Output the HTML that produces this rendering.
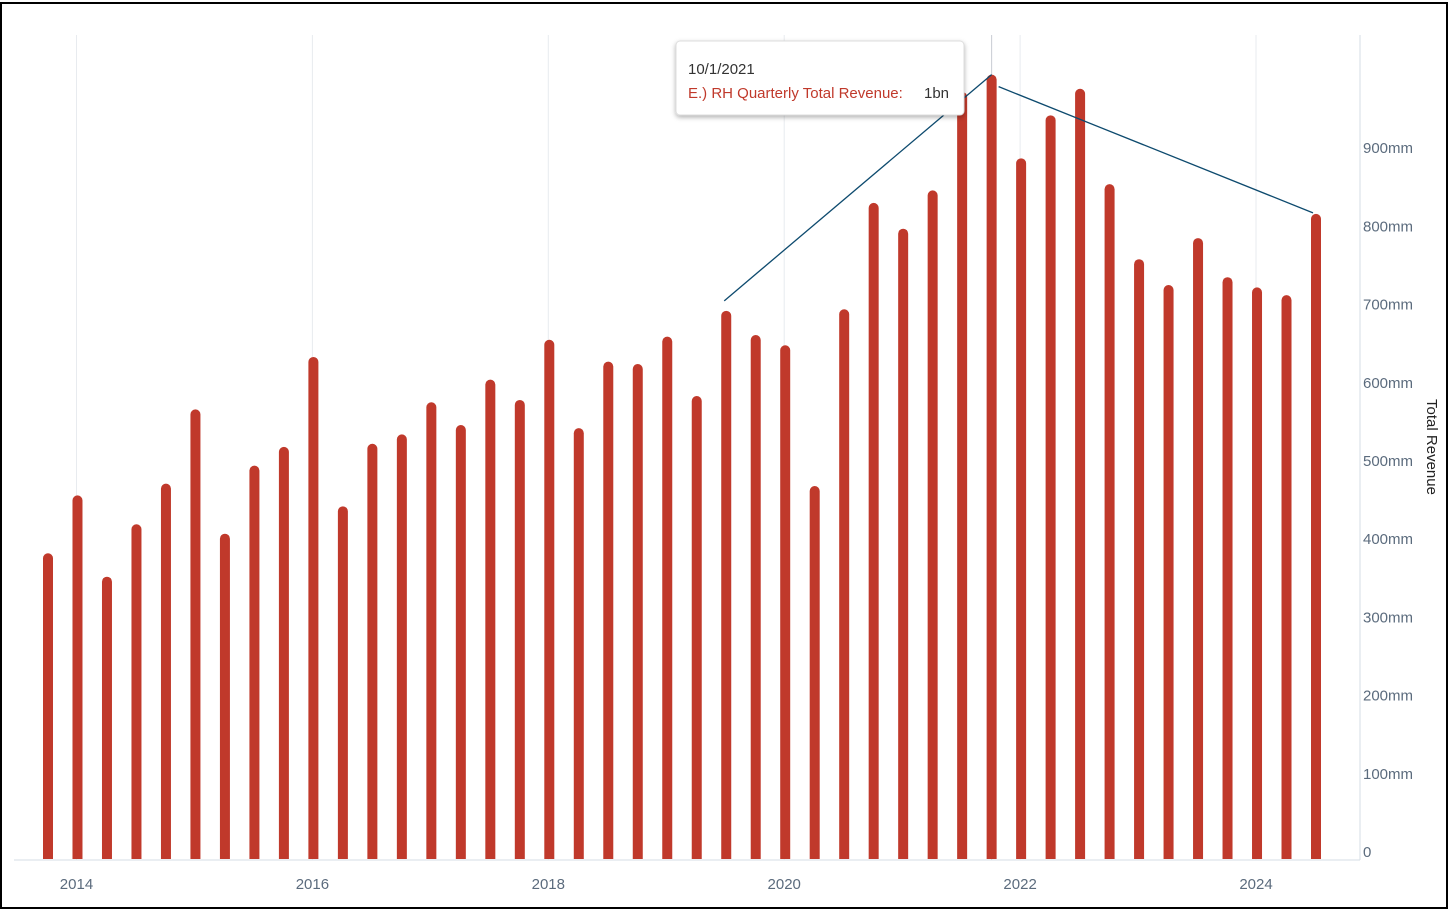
<!DOCTYPE html>
<html><head><meta charset="utf-8"><style>
html,body{margin:0;padding:0;background:#fff;}
#wrap{position:relative;width:1456px;height:915px;overflow:hidden;font-family:"Liberation Sans",sans-serif;}
svg text{font-family:"Liberation Sans",sans-serif;}
</style></head><body>
<div id="wrap">
<svg id="chart" width="1456" height="915">
<rect x="1" y="3" width="1446" height="905" fill="#fff" stroke="#000" stroke-width="2"/>
<g id="grid"></g><g id="bars"></g><g id="axes"></g><g id="overlay"></g>
</svg>
</div>
<script>
const categories = ["10/1/2013","1/1/2014","4/1/2014","7/1/2014","10/1/2014","1/1/2015","4/1/2015","7/1/2015","10/1/2015","1/1/2016","4/1/2016","7/1/2016","10/1/2016","1/1/2017","4/1/2017","7/1/2017","10/1/2017","1/1/2018","4/1/2018","7/1/2018","10/1/2018","1/1/2019","4/1/2019","7/1/2019","10/1/2019","1/1/2020","4/1/2020","7/1/2020","10/1/2020","1/1/2021","4/1/2021","7/1/2021","10/1/2021","1/1/2022","4/1/2022","7/1/2022","10/1/2022","1/1/2023","4/1/2023","7/1/2023","10/1/2023","1/1/2024","4/1/2024","7/1/2024"];
const revenue = [391,465,361,428,480,575,416,503,527,642,451,531,543,584,555,613,587,664,551,636,633,668,592,701,670,657,477,703,839,806,855,981,1003,896,951,985,863,767,734,794,744,731,721,825];
const yTicks = [0,100,200,300,400,500,600,700,800,900];
const yTickLabels = ["0","100mm","200mm","300mm","400mm","500mm","600mm","700mm","800mm","900mm"];
const xTickLabels = ["2014","2016","2018","2020","2022","2024"];
const xTickIndex = [1,9,17,25,33,41];
const highlightIndex = 32;

const NS="http://www.w3.org/2000/svg";
const x0=48, step=(1316-48)/43, yBase=859, pxPer=0.782;
const xs=i=>x0+i*step;
const ys=v=>yBase-v*pxPer;
function mk(tag,attrs,parent){const e=document.createElementNS(NS,tag);for(const k in attrs)e.setAttribute(k,attrs[k]);parent.appendChild(e);return e;}
const grid=document.getElementById('grid'),bars=document.getElementById('bars'),axes=document.getElementById('axes'),ov=document.getElementById('overlay');

xTickIndex.forEach((ti,j)=>{
  const x=xs(ti)-1;
  const l=mk('line',{x1:x,x2:x,y1:35,y2:860,stroke:'#e8ebef','stroke-width':1},grid);
  
  
  const t=mk('text',{x:x,y:889,'text-anchor':'middle','font-size':15,fill:'#5b6b7d'},axes);
  t.textContent=xTickLabels[j];
  
  
});
const cx=xs(highlightIndex);
const ch=mk('line',{x1:cx,x2:cx,y1:35,y2:860,stroke:'#c8ccd2','stroke-width':1},grid);



revenue.forEach((v,i)=>{
  const x=xs(i),top=ys(v);
  const p=mk('path',{d:`M${x-5},${yBase} L${x-5},${top+5} A5,5 0 0 1 ${x+5},${top+5} L${x+5},${yBase} Z`,fill:'#c0392b'},bars);
  
  
});

const ax=mk('line',{x1:14,x2:1360,y1:860,y2:860,stroke:'#d5dde6','stroke-width':1},axes);


const ay=mk('line',{x1:1360,x2:1360,y1:35,y2:860,stroke:'#d5dde6','stroke-width':1},axes);


yTicks.forEach((v,j)=>{
  const t=mk('text',{x:1363,y:ys(v)-2,'font-size':15,fill:'#5b6b7d'},axes);
  t.textContent=yTickLabels[j];
  
  
});
const yt=mk('text',{x:1427,y:447,'font-size':15,fill:'#222','text-anchor':'middle',transform:'rotate(90 1427 447)'},axes);
yt.textContent='Total Revenue';



// annotation lines
const a1=mk('line',{x1:xs(23)-2,y1:ys(revenue[23])-10,x2:xs(highlightIndex),y2:ys(revenue[highlightIndex]),stroke:'#0d4a6e','stroke-width':1.3},ov);


const a2=mk('line',{x1:xs(highlightIndex)+7,y1:ys(revenue[highlightIndex])+12,x2:xs(43)-3,y2:ys(revenue[43])-1,stroke:'#0d4a6e','stroke-width':1.3},ov);



// tooltip
const defs=mk('defs',{},ov);
defs.innerHTML='<filter id="sh" x="-10%" y="-20%" width="120%" height="150%"><feDropShadow dx="0" dy="2" stdDeviation="2.5" flood-color="#000" flood-opacity="0.3"/></filter>';
const tg=mk('g',{},ov);


mk('rect',{x:676,y:41,width:288,height:74,rx:4,fill:'#fff',stroke:'#ddd',filter:'url(#sh)'},tg);
const t1=mk('text',{x:688,y:74,'font-size':15,fill:'#333'},tg);
t1.textContent=categories[highlightIndex];


const t2=mk('text',{x:688,y:98,'font-size':15,fill:'#c0392b'},tg);
t2.textContent='E.) RH Quarterly Total Revenue:';


const t3=mk('text',{x:924,y:98,'font-size':15,fill:'#333'},tg);
t3.textContent='1bn';


</script>
</body></html>
